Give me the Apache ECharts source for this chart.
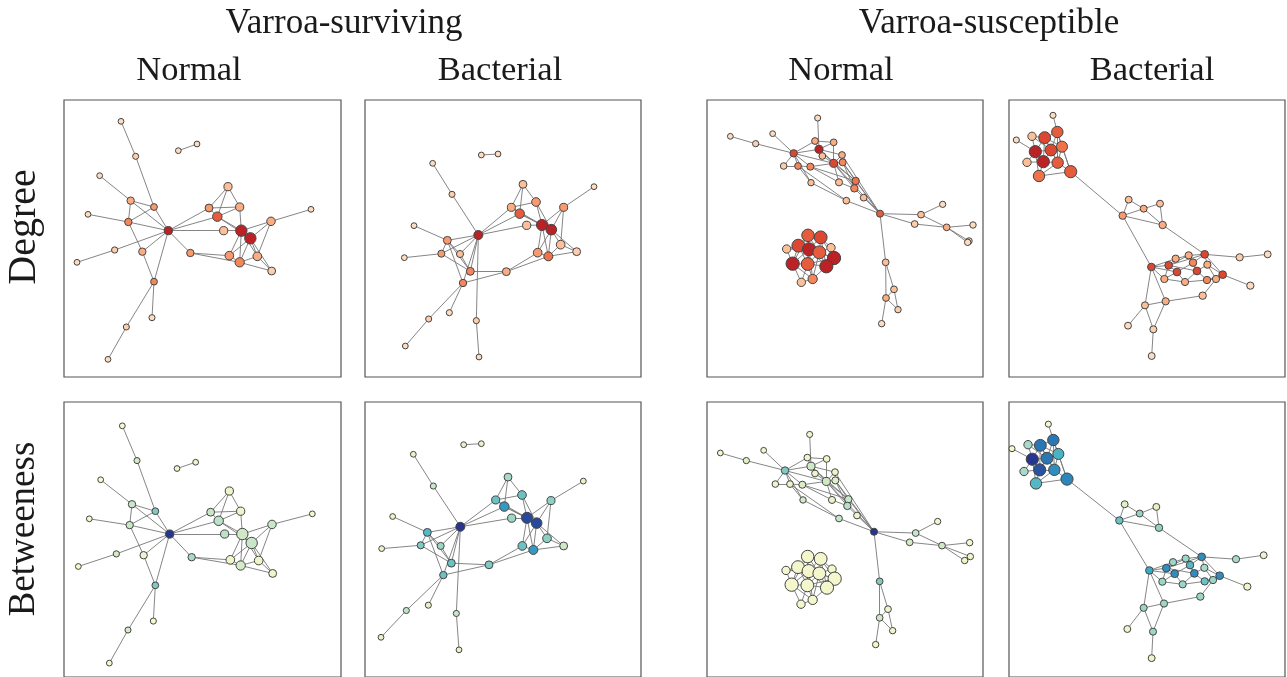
<!DOCTYPE html>
<html>
<head>
<meta charset="utf-8">
<title>Varroa networks</title>
<script src="https://cdn.jsdelivr.net/npm/echarts@6/dist/echarts.min.js"></script>
<style>
  html, body { margin: 0; padding: 0; background: #fff; }
  #chart { width: 1287px; height: 677px; }
</style>
</head>
<body>
<div id="chart"></div>
<script>
// ---- Column / row headings ----
const groupTitles = ['Varroa-surviving', 'Varroa-susceptible'];
const treatmentTitles = ['Normal', 'Bacterial', 'Normal', 'Bacterial'];
const rowTitles = ['Degree', 'Betweeness'];

// ---- Network A: Varroa-surviving, Normal ----
const netA_deg = [1,2,1,1,1,4,5,1,6,11,2,1,4,5,6,1,2,1,3,5,4,8,3,11,11,4,1,5,4,6,2];
const netA_btw = [0,0.2,0.05,0.05,0,0.25,0.45,0,0.25,1,0.2,0,0.05,0.35,0.45,0,0.2,0,0.05,0.25,0.05,0.3,0.3,0.22,0.25,0.25,0,0.05,0.05,0.2,0.05];
const netA_abund = [1,1.2,1,1,1,2,1.6,1,2,2.5,1.3,1,2,2,1.6,1.2,1.2,1,2.5,2.3,2.5,3.3,2.5,4.5,4.5,2.7,1,2.8,2.8,3.2,2.3];
const netA_posTop = [[174,67],[218,172],[346,155],[402,135],[110,230],[203,305],[273,324],[75,346],[196,369],[316,395],[155,453],[42,490],[238,458],[382,462],[273,548],[267,656],[190,684],[135,781],[495,263],[438,327],[530,324],[463,353],[482,395],[535,395],[562,418],[624,367],[744,331],[499,470],[583,472],[530,490],[626,516]];
const netA_posBottom = [[178,78],[222,183],[342,207],[398,188],[113,241],[207,315],[277,336],[79,359],[200,378],[320,405],[160,465],[46,503],[242,469],[386,475],[277,560],[271,668],[195,695],[139,795],[499,275],[443,339],[533,336],[467,365],[485,405],[538,405],[566,432],[627,376],[748,344],[502,483],[587,485],[533,500],[629,524]];
const netA_edges = [[0,1],[1,6],[6,9],[4,5],[5,6],[5,8],[5,9],[6,8],[7,8],[8,9],[8,12],[12,14],[11,10],[10,9],[12,9],[14,9],[14,15],[14,16],[16,17],[9,13],[13,27],[13,29],[9,19],[9,21],[9,22],[2,3],
  [18,19],[18,20],[18,21],[19,20],[19,21],[20,21],[20,23],[21,23],[21,24],[23,24],[23,25],[24,25],[25,26],[23,27],[23,29],[24,27],[24,28],[24,29],[24,30],[27,29],[28,29],[29,30],[25,28],[23,28],[22,23],[28,30]];

// ---- Network B: Varroa-surviving, Bacterial ----
const netB_deg = [1,1,1,2,1,11,5,1,5,3,6,6,4,1,2,1,2,1,3,4,5,8,3,11,11,5,1,5,3,7,2];
const netB_btw = [0.1,0.1,0.1,0.25,0.1,1,0.55,0.1,0.45,0.38,0.5,0.5,0.45,0.12,0.28,0.1,0.25,0.1,0.35,0.5,0.5,0.68,0.38,0.95,0.95,0.42,0.1,0.5,0.42,0.68,0.22];
const netB_abund = [1,1,1,1.2,1,3,2.3,1,1.8,1.8,2.3,2,2.3,1.2,1.2,1,1.2,1,2.3,2.4,2.8,3.3,2.5,4.3,4,2.4,1,2.8,2.8,3,2.3];
const netB_posTop = [[355,168],[405,165],[209,193],[267,286],[153,380],[346,408],[253,424],[124,476],[235,464],[291,465],[322,517],[300,552],[430,518],[259,641],[197,660],[127,741],[340,665],[348,774],[480,256],[445,325],[519,309],[470,344],[491,379],[537,378],[565,392],[602,325],[693,263],[524,461],[593,437],[556,472],[641,458]];
const netB_posBottom = [[302,135],[355,132],[151,164],[211,260],[89,352],[292,383],[193,400],[56,449],[173,439],[233,441],[265,493],[241,529],[378,498],[196,620],[130,636],[54,717],[280,645],[288,755],[435,233],[398,302],[477,287],[424,322],[446,357],[492,356],[521,372],[564,304],[661,245],[478,441],[552,418],[511,453],[602,441]];
const netB_edges = [[0,1],[2,3],[3,5],[4,6],[6,5],[6,8],[6,9],[8,5],[9,5],[7,8],[6,10],[8,10],[9,10],[10,5],[11,5],[11,6],[10,12],[11,12],[11,14],[11,13],[14,15],[5,16],[16,17],[5,19],[5,21],[5,22],[12,27],[12,29],
  [18,19],[18,20],[18,21],[19,20],[19,21],[20,23],[20,24],[21,23],[21,24],[22,23],[23,24],[23,25],[24,25],[25,26],[25,28],[23,27],[24,27],[24,29],[24,30],[23,29],[27,29],[28,29],[29,30],[28,30],[24,28],[19,23]];

// ---- Network C: Varroa-susceptible, Normal ----
const netC_deg = [1,2,1,1,4,4,9,11,3,4,2,6,6,9,6,3,3,7,6,3,3,8,3,1,2,4,1,1,3,3,4,2,1,8,9,3,9,11,8,3,11,8,11,11,3,6,1];
const netC_btw = [0.03,0.15,0.03,0.03,0.05,0.05,0.45,0.22,0.05,0.05,0.05,0.05,0.18,0.22,0.15,0.2,0.08,0.25,0.32,0.05,0.25,1,0.25,0.03,0.2,0.22,0,0.03,0.45,0.05,0.22,0.05,0.03,0.02,0.02,0.02,0.02,0.02,0.02,0.02,0.02,0.02,0.02,0.02,0.02,0.02,0.03];
const netC_abund = [1,1.3,1,1.2,1.6,1.6,2,2.4,1.6,1.6,1.5,1.6,1.8,2.4,1.8,1.4,1.8,2,2,1.6,1.6,1.8,1.6,1.3,1.6,1.6,1.4,1.4,1.6,1.6,1.6,1.4,1.4,5.2,5.4,2.6,5.4,5.6,5.4,2.6,5.7,5.4,5.7,5.6,2.6,3.2,1.4];
const netC_posTop = [[76,112],[152,134],[203,104],[338,57],[330,126],[386,130],[266,163],[342,151],[352,171],[411,168],[236,201],[279,201],[316,203],[386,193],[413,190],[318,251],[402,250],[452,246],[448,268],[476,296],[424,305],[525,344],[648,347],[713,316],[629,375],[725,385],[804,378],[792,426],[542,490],[567,571],[543,597],[579,632],[530,674],
  [309,409],[347,415],[245,450],[280,440],[312,451],[343,460],[378,446],[263,494],[308,495],[387,477],[364,502],[289,550],[323,540],[788,430]];
const netC_posBottom = [[46,160],[124,183],[176,152],[314,104],[307,174],[365,178],[240,213],[318,200],[330,222],[390,218],[211,254],[255,254],[292,256],[364,246],[391,243],[294,302],[381,302],[430,300],[427,320],[456,349],[402,358],[507,398],[632,402],[698,367],[614,430],[711,440],[794,431],[779,485],[524,548],[549,632],[524,658],[563,697],[512,739],
  [308,473],[347,480],[243,515],[279,505],[311,517],[343,524],[381,511],[260,558],[307,560],[389,540],[366,567],[288,617],[323,604],[796,473]];
const netC_edges = [[0,1],[1,6],[2,6],[3,7],[6,4],[6,7],[6,10],[6,11],[6,12],[6,13],[6,15],[4,5],[4,7],[5,7],[5,13],[7,8],[7,13],[7,9],[7,17],[8,13],[9,13],[9,14],[10,11],[11,12],[11,15],[12,13],[12,16],[12,17],[13,14],[13,16],[13,17],[13,18],[14,17],[14,18],[14,21],[13,21],[11,20],[15,20],[16,18],[17,18],[18,19],[19,21],[20,21],[17,21],[9,21],[21,22],[21,24],[22,23],[22,25],[24,25],[25,26],[25,27],[25,46],[21,28],[28,29],[28,30],[29,30],[29,31],[30,31],[30,32],
  [33,34],[33,36],[33,37],[33,38],[33,41],[33,40],[34,37],[34,38],[34,39],[34,42],[34,43],[35,36],[35,40],[35,37],[36,37],[36,40],[36,41],[36,38],[37,38],[37,40],[37,41],[37,43],[37,45],[37,42],[38,39],[38,42],[38,43],[38,41],[38,45],[39,42],[39,43],[40,41],[40,44],[40,45],[41,43],[41,44],[41,45],[41,42],[42,43],[43,45],[44,45]];

// ---- Network D: Varroa-susceptible, Bacterial ----
const netD_deg = [1,8,3,9,1,7,9,11,3,11,8,8,7,3,4,3,5,4,9,4,4,6,9,9,4,9,9,9,4,4,6,4,2,1,1,3,4,3,1,2,1];
const netD_btw = [0.02,0.8,0.35,0.8,0.02,0.58,0.8,1,0.35,0.92,0.72,0.75,0.55,0.15,0.4,0.12,0.5,0.4,0.72,0.38,0.38,0.55,0.72,0.62,0.35,0.72,0.72,0.72,0.38,0.38,0.5,0.38,0.35,0.05,0.05,0.38,0.38,0.38,0.05,0.38,0.05];
const netD_abund = [1.2,4.5,2.6,4.8,1.2,4.3,4.8,5,2.6,5,4.5,5,4.5,1.7,1.7,1.7,2,2,2.2,1.9,1.9,2.1,2.2,2.1,1.9,2.2,2.2,2.2,1.9,1.9,2,1.9,1.9,1.7,1.9,2,1.9,1.8,1.7,1.8,1.7];
const netD_posTop = [[141,49],[154,99],[78,112],[116,116],[31,123],[168,143],[135,153],[88,158],[63,190],[112,188],[155,191],[194,218],[99,231],[368,302],[413,329],[462,314],[350,350],[470,378],[596,466],[548,469],[509,479],[561,491],[488,499],[436,504],[604,497],[650,527],[513,519],[573,516],[475,540],[537,549],[603,543],[630,540],[701,475],[785,466],[733,560],[590,590],[479,607],[417,619],[366,680],[442,691],[437,771]];
const netD_posBottom = [[127,73],[142,121],[66,135],[103,137],[18,147],[157,163],[123,176],[79,179],[54,216],[101,211],[145,211],[183,239],[90,252],[356,315],[401,343],[451,323],[340,364],[459,386],[587,474],[539,479],[501,490],[552,499],[481,508],[430,515],[595,507],[641,531],[506,525],[565,524],[469,549],[530,557],[596,548],[621,544],[690,481],[773,469],[724,564],[583,594],[474,615],[413,628],[364,692],[441,700],[437,780]];
const netD_edges = [[0,1],[4,7],[1,3],[1,5],[1,6],[1,10],[1,11],[2,3],[2,7],[3,6],[3,7],[3,9],[3,5],[5,6],[5,10],[5,11],[6,7],[6,9],[6,10],[7,8],[7,9],[7,12],[8,9],[9,10],[9,12],[10,11],[10,12],[11,12],[2,6],[3,10],
  [11,16],[16,13],[16,14],[16,17],[13,14],[14,15],[14,17],[15,17],[16,23],[17,18],[18,19],[18,21],[18,22],[18,24],[18,25],[18,32],[32,33],[25,34],[25,24],[25,30],[25,31],[23,20],[23,22],[23,26],[23,28],[23,36],[23,37],[22,20],[22,19],[22,26],[22,28],[20,19],[19,21],[21,26],[21,27],[26,28],[26,29],[27,29],[27,30],[27,24],[29,30],[30,31],[31,35],[35,36],[36,37],[36,39],[37,39],[37,38],[39,40],[28,29],[24,31],[22,27],[19,27]];

// ---- Colour ramps ----
const degreeRamp = [[0,'#fddcc0'],[0.2,'#fcbf98'],[0.4,'#f89a6e'],[0.6,'#ef7248'],[0.8,'#dc4732'],[1,'#bb2226']];
const betweenRamp = [[0,'#f7f8cc'],[0.15,'#e0f0c6'],[0.3,'#bce2c9'],[0.45,'#7fcbc4'],[0.6,'#41afc6'],[0.75,'#2c85bb'],[0.9,'#2a5aa6'],[1,'#26358f']];

function hexToRgb(h) {
  return [parseInt(h.slice(1,3),16), parseInt(h.slice(3,5),16), parseInt(h.slice(5,7),16)];
}
function rampColor(ramp, t) {
  t = Math.max(0, Math.min(1, t));
  for (let i = 1; i < ramp.length; i++) {
    if (t <= ramp[i][0]) {
      const [t0, c0] = ramp[i-1], [t1, c1] = ramp[i];
      const f = (t - t0) / (t1 - t0);
      const a = hexToRgb(c0), b = hexToRgb(c1);
      const c = a.map((v, k) => Math.round(v + (b[k] - v) * f));
      return 'rgb(' + c.join(',') + ')';
    }
  }
  return ramp[ramp.length-1][1];
}
function nodeSize(a) { return 4.2 + 1.6 * a; }

const networks = [
  {deg: netA_deg, btw: netA_btw, abund: netA_abund, pos: [netA_posTop, netA_posBottom], edges: netA_edges},
  {deg: netB_deg, btw: netB_btw, abund: netB_abund, pos: [netB_posTop, netB_posBottom], edges: netB_edges},
  {deg: netC_deg, btw: netC_btw, abund: netC_abund, pos: [netC_posTop, netC_posBottom], edges: netC_edges},
  {deg: netD_deg, btw: netD_btw, abund: netD_abund, pos: [netD_posTop, netD_posBottom], edges: netD_edges}
];

// Panel frames: each layout is drawn in a 3x local frame anchored at `org`
const cols = [{box: 64, org: 63, w: 277}, {box: 365, org: 363, w: 276}, {box: 707, org: 705, w: 276}, {box: 1009, org: 1006, w: 276}];
const rows = [{box: 100, org: 99, h: 277}, {box: 402, org: 400, h: 277}];
const UNIT = 3;

const grids = [], xAxes = [], yAxes = [], series = [];
rows.forEach((r, ri) => {
  cols.forEach((c, ci) => {
    const idx = grids.length;
    grids.push({left: c.box, top: r.box, width: c.w, height: r.h, show: true,
      borderColor: '#555', borderWidth: 1.2, backgroundColor: '#fff', containLabel: false});
    const xmin = (c.box - c.org) * UNIT, ymin = (r.box - r.org) * UNIT;
    xAxes.push({gridIndex: idx, type: 'value', min: xmin, max: xmin + c.w * UNIT, show: false});
    yAxes.push({gridIndex: idx, type: 'value', min: ymin, max: ymin + r.h * UNIT, inverse: true, show: false});
    const net = networks[ci];
    const maxDeg = Math.max.apply(null, net.deg);
    const data = net.pos[ri].map((p, i) => ({
      value: p,
      symbolSize: nodeSize(net.abund[i]),
      itemStyle: {
        color: ri === 0 ? rampColor(degreeRamp, (net.deg[i] - 1) / (maxDeg - 1)) : rampColor(betweenRamp, net.btw[i]),
        borderColor: '#444', borderWidth: 1
      }
    }));
    series.push({
      type: 'graph', layout: 'none', coordinateSystem: 'cartesian2d',
      xAxisIndex: idx, yAxisIndex: idx,
      symbol: 'circle', data: data,
      links: net.edges.map(e => ({source: e[0], target: e[1]})),
      lineStyle: {color: '#777', width: 0.9, opacity: 1, curveness: 0},
      emphasis: {disabled: true}, silent: true, animation: false
    });
  });
});

const serif = '"Liberation Serif", "Times New Roman", serif';
function label(text, x, y, size, rot) {
  return {type: 'text', x: x, y: y, rotation: rot || 0,
    style: {text: text, font: size + 'px ' + serif, fill: '#1a1a1a', textAlign: 'center', textVerticalAlign: 'middle'}};
}
const graphic = [
  label(groupTitles[0], 344, 24, 35),
  label(groupTitles[1], 989, 24, 35),
  label(treatmentTitles[0], 189, 71, 34.5),
  label(treatmentTitles[1], 500, 71, 34.5),
  label(treatmentTitles[2], 841, 71, 34.5),
  label(treatmentTitles[3], 1152, 71, 34.5),
  label(rowTitles[0], 24, 227, 40, Math.PI / 2),
  label(rowTitles[1], 24, 529, 37, Math.PI / 2)
];

const chart = echarts.init(document.getElementById('chart'), null, {renderer: 'canvas'});
chart.setOption({
  backgroundColor: '#fff',
  animation: false,
  grid: grids, xAxis: xAxes, yAxis: yAxes,
  series: series,
  graphic: graphic
});
</script>
</body>
</html>
